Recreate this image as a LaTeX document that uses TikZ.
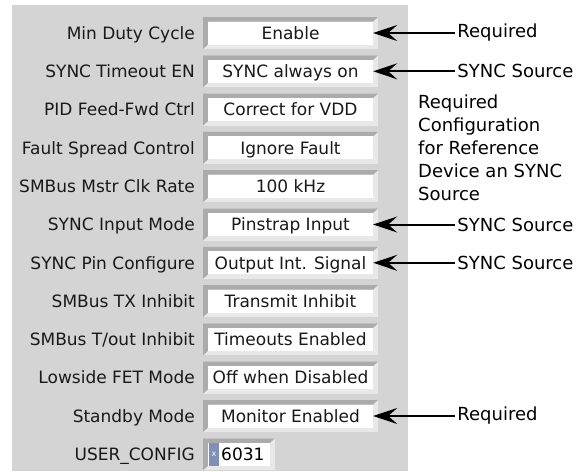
\documentclass[tikz,border=0pt]{standalone}
\usepackage{fontspec}
\setmainfont{DejaVu Sans}
\usetikzlibrary{arrows.meta,positioning}
\definecolor{panelgray}{HTML}{D4D4D4}
\definecolor{bevdark}{HTML}{ABABAB}
\definecolor{bevlight}{HTML}{E8E8E8}
\definecolor{fieldblue}{HTML}{7F8FB8}
\tikzset{
  lbl/.style={anchor=east, inner sep=0pt, text height=15pt, text depth=2.6pt,
    font=\fontsize{17}{20}\selectfont, text=black!90},
  valbox/.style={fill=white, minimum width=165pt, minimum height=23pt, inner sep=0pt,
    text height=15pt, text depth=2.6pt, font=\fontsize{17}{20}\selectfont, text=black!90},
  note/.style={anchor=west, inner sep=2pt, font=\fontsize{18}{23}\selectfont},
  pointer/.style={line width=2pt, -{Stealth[length=24pt,width=16pt,inset=9pt]}}
}

\begin{document}
\begin{tikzpicture}[x=1pt,y=-1pt]
\useasboundingbox (0,0) rectangle (588,471);
\fill[panelgray] (12,5) rectangle (408,471); % settings panel
% one row per setting: label, sunken box, value
\foreach [count=\i] \a/\b in {Min Duty Cycle/Enable, SYNC Timeout EN/SYNC always on,
    PID Feed-Fwd Ctrl/Correct for VDD, Fault Spread Control/Ignore Fault,
    SMBus Mstr Clk Rate/100 kHz, SYNC Input Mode/Pinstrap Input,
    SYNC Pin Configure/Output Int. Signal, SMBus TX Inhibit/Transmit Inhibit,
    {SMBus T/out Inhibit}/Timeouts Enabled, Lowside FET Mode/Off when Disabled,
    Standby Mode/Monitor Enabled}{
  \pgfmathsetmacro\y{33+38.3*(\i-1)}
  \fill[bevlight] (203,\y-16) rectangle (378,\y+16);
  \fill[bevdark] (203,\y-16) -- (378,\y-16) -- (373,\y-11.5) -- (208,\y-11.5) -- (208,\y+11.5) -- (203,\y+16) -- cycle;
  \node[lbl] (lbl\i) at (195,\y) {\a};
  \node[valbox] (val\i) at (290.5,\y) {\b};
}
% last row, hex field
\fill[bevlight] (203,438.3) rectangle (275,470.3);
\fill[bevdark] (203,438.3) -- (275,438.3) -- (270,442.8) -- (208,442.8) -- (208,465.8) -- (203,470.3) -- cycle;
\node[lbl] (lbl12) at (195,454.3) {USER\_CONFIG};
\node[valbox, minimum width=62pt] (val12) at (239,454.3) {};
\fill[fieldblue] (209,443) rectangle (219,466);
\node[inner sep=0pt, font=\fontsize{8}{8}\selectfont, text=white] (xmark) at (214,454.3) {x};
\node[lbl, anchor=west, text=black] (hexval) at (221,454.3) {6031};
% notes and arrows
\node[note, right=82pt of val1] (req1) {Required};
\node[note, right=82pt of val2] (src2) {SYNC Source};
\node[note, right=82pt of val6] (src6) {SYNC Source};
\node[note, right=82pt of val7] (src7) {SYNC Source};
\node[note, right=82pt of val11] (req11) {Required};
\node[note, anchor=north west, align=left] (cfgnote) at (416,93) {Required\\Configuration\\for Reference\\Device an SYNC\\Source};
\draw[pointer] (req1.west) -- (val1.east);
\draw[pointer] (src2.west) -- (val2.east);
\draw[pointer] (src6.west) -- (val6.east);
\draw[pointer] (src7.west) -- (val7.east);
\draw[pointer] (req11.west) -- (val11.east);
\end{tikzpicture}
\end{document}
